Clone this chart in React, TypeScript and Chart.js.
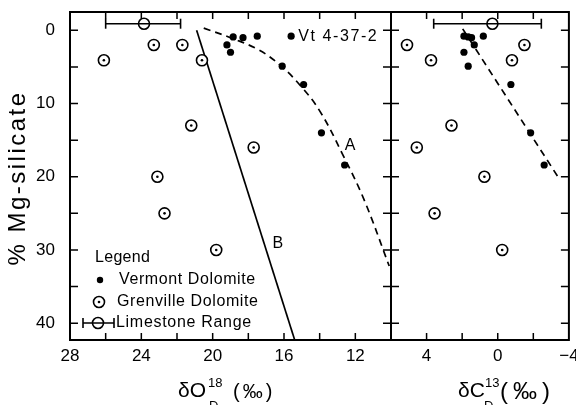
import React, { useEffect, useRef } from 'react';
import { Chart, registerables } from 'chart.js';

Chart.register(...registerables);

const FONT = '"Liberation Sans", Arial, Helvetica, sans-serif';

// ---- Vermont Dolomite (filled dots) ----
const vermontMg = [0.8, 0.8, 0.9, 1.0, 2.0, 3.0, 4.9, 7.4, 14.0, 18.4];
const vermontO18 = [17.5, 15.6, 18.85, 18.3, 19.2, 19.0, 16.1, 14.9, 13.9, 12.6];
const vermontC13 = [1.9, 0.81, 1.66, 1.47, 1.32, 1.9, 1.66, -0.74, -1.85, -2.61];

// ---- Grenville Dolomite (dotted circles) ----
const grenvilleMg = [2.0, 2.0, 4.1, 4.1, 13.0, 16.0, 20.0, 25.0, 30.0];
const grenvilleO18 = [23.3, 21.7, 26.1, 20.6, 21.2, 17.7, 23.1, 22.7, 19.8];
const grenvilleC13 = [5.1, -1.5, 3.75, -0.8, 2.6, 4.55, 0.75, 3.55, -0.25];

// ---- Limestone range ----
const limestoneMg = -0.9;
const limestoneO18Range = [26.0, 21.8];
const limestoneO18Mean = 23.85;
const limestoneC13Range = [3.6, -2.45];
const limestoneC13Mean = 0.3;

// ---- Trend lines ----
const curveA_O18 = [20.5, 18.9, 17.4, 16.2, 15.1, 14.0, 12.7, 11.5, 10.1];
const curveA_Mg = [-0.3, 1.1, 2.7, 4.8, 7.5, 11.0, 17.0, 23.2, 32.2];
const lineB_O18 = [20.9, 15.4];
const lineB_Mg = [0, 42.3];
const lineC_C13 = [1.97, -3.46];
const lineC_Mg = [-0.2, 20.3];

// ---- Ticks ----
const o18Ticks = [28, 26, 24, 22, 20, 18, 16, 14, 12, 10];
const o18Labels = [28, 24, 20, 16, 12];
const c13Ticks = [6, 4, 2, 0, -2, -4];
const c13Labels = [4, 0, -4];
const mgTicks = [0, 5, 10, 15, 20, 25, 30, 35, 40];
const mgLabels = [0, 10, 20, 30, 40];

const O18_MIN = 10, O18_MAX = 28;
const C13_MIN = -4, C13_MAX = 6;
const MG_MIN = -2.5, MG_MAX = 42.3;

const fmt = (v: number) => (v < 0 ? '\u2212' + Math.abs(v) : String(v));

function txt(ctx: any, s: string, x: number, y: number, size: number, opts: any = {}) {
  ctx.font = `${opts.weight || 'normal'} ${size}px ${FONT}`;
  ctx.letterSpacing = (opts.sp || 0) + 'px';
  ctx.textAlign = opts.align || 'left';
  ctx.textBaseline = opts.base || 'alphabetic';
  ctx.fillStyle = '#000';
  ctx.fillText(s, x, y);
}

function pts(xs: number[], ys: number[]) {
  return xs.map((x, i) => ({ x, y: ys[i] }));
}

function datasets(side: 'left' | 'right') {
  const isL = side === 'left';
  const vX = isL ? vermontO18 : vermontC13;
  const gX = isL ? grenvilleO18 : grenvilleC13;
  const lr = isL ? limestoneO18Range : limestoneC13Range;
  const lm = isL ? limestoneO18Mean : limestoneC13Mean;
  const ds: any[] = [
    { data: pts(vX, vermontMg), pointRadius: 3.6, backgroundColor: '#000', borderWidth: 0, pointBorderWidth: 0 },
    { data: pts(gX, grenvilleMg), pointRadius: 1.3, backgroundColor: '#000', borderWidth: 0, pointBorderWidth: 0 },
    { data: pts(gX, grenvilleMg), pointRadius: 5.5, backgroundColor: '#fff', borderColor: '#000', pointBorderWidth: 1.6 },
    { data: [{ x: lm, y: limestoneMg }], pointRadius: 5.5, backgroundColor: 'rgba(0,0,0,0)', borderColor: '#000', pointBorderWidth: 1.6 },
    {
      data: lr.map((x) => ({ x, y: limestoneMg })), showLine: true, borderColor: '#000', borderWidth: 1.6,
      pointStyle: 'line', rotation: 90, pointRadius: 5, pointBorderWidth: 1.6, pointBorderColor: '#000',
    },
  ];
  if (isL) {
    ds.push({ data: pts(curveA_O18, curveA_Mg), showLine: true, pointRadius: 0, borderColor: '#000', borderWidth: 1.7, borderDash: [7, 5], tension: 0.4 });
    ds.push({ data: pts(lineB_O18, lineB_Mg), showLine: true, pointRadius: 0, borderColor: '#000', borderWidth: 1.7 });
  } else {
    ds.push({ data: pts(lineC_C13, lineC_Mg), showLine: true, pointRadius: 0, borderColor: '#000', borderWidth: 1.7, borderDash: [7, 5] });
  }
  return ds;
}

function panelPlugin(side: 'left' | 'right') {
  return {
    id: 'panel_' + side,
    afterDraw(chart: any) {
      const { ctx, chartArea: a, scales } = chart;
      const x = scales.x, y = scales.y;
      ctx.save();
      ctx.strokeStyle = '#000';
      ctx.lineWidth = 2;
      ctx.strokeRect(a.left, a.top, a.right - a.left, a.bottom - a.top);
      ctx.lineWidth = 1.5;
      ctx.beginPath();
      const xt = side === 'left' ? o18Ticks : c13Ticks;
      for (const v of xt) {
        const px = x.getPixelForValue(v);
        if (px <= a.left + 1 || px >= a.right - 1) continue;
        ctx.moveTo(px, a.top); ctx.lineTo(px, a.top + 7);
        ctx.moveTo(px, a.bottom); ctx.lineTo(px, a.bottom - 7);
      }
      for (const v of mgTicks) {
        const py = y.getPixelForValue(v);
        ctx.moveTo(a.left, py); ctx.lineTo(a.left + 8, py);
        ctx.moveTo(a.right, py); ctx.lineTo(a.right - 8, py);
      }
      ctx.stroke();

      if (side === 'left') {
        // y title
        ctx.save();
        ctx.translate(18, (a.top + a.bottom) / 2 + 2);
        ctx.rotate(-Math.PI / 2);
        txt(ctx, '% Mg-silicate', 0, 0, 24, { sp: 2.5, align: 'center', base: 'middle' });
        ctx.restore();
        // x title
        txt(ctx, '\u03b4O', 178, 397, 21);
        txt(ctx, '18', 208, 387, 13);
        txt(ctx, 'D', 209, 410, 13);
        txt(ctx, '(\u2030)', 233, 398, 20, { sp: 3 });
        // annotations
        txt(ctx, 'A', x.getPixelForValue(12.3), y.getPixelForValue(15.7), 16, { align: 'center', base: 'middle' });
        txt(ctx, 'B', x.getPixelForValue(16.35), y.getPixelForValue(29.1), 16, { align: 'center', base: 'middle' });
        txt(ctx, 'Vt 4-37-2', x.getPixelForValue(vermontO18[1]) + 7, y.getPixelForValue(vermontMg[1]), 16, { sp: 1.6, base: 'middle' });
        // legend
        const lx = a.left, ly = a.bottom;
        txt(ctx, 'Legend', lx + 25, ly - 82, 16, { sp: 0.3, base: 'middle' });
        ctx.fillStyle = '#000';
        ctx.beginPath(); ctx.arc(lx + 30, ly - 60, 3.2, 0, Math.PI * 2); ctx.fill();
        txt(ctx, 'Vermont Dolomite', lx + 49, ly - 60, 16, { sp: 0.6, base: 'middle' });
        ctx.lineWidth = 1.6;
        ctx.beginPath(); ctx.arc(lx + 29, ly - 38, 5.5, 0, Math.PI * 2); ctx.stroke();
        ctx.beginPath(); ctx.arc(lx + 29, ly - 38, 1.3, 0, Math.PI * 2); ctx.fill();
        txt(ctx, 'Grenville Dolomite', lx + 47, ly - 38, 16, { sp: 0.6, base: 'middle' });
        ctx.beginPath();
        ctx.moveTo(lx + 13, ly - 17); ctx.lineTo(lx + 44, ly - 17);
        ctx.moveTo(lx + 13, ly - 22); ctx.lineTo(lx + 13, ly - 12);
        ctx.moveTo(lx + 44, ly - 22); ctx.lineTo(lx + 44, ly - 12);
        ctx.stroke();
        ctx.beginPath(); ctx.arc(lx + 28, ly - 17, 5.5, 0, Math.PI * 2); ctx.stroke();
        txt(ctx, 'Limestone Range', lx + 46, ly - 17, 16, { sp: 0.7, base: 'middle' });
      } else {
        txt(ctx, '\u03b4C', 458, 397, 21);
        txt(ctx, '13', 485, 387, 13);
        txt(ctx, 'D', 484, 410, 13);
        txt(ctx, '(\u2030)', 500, 399, 24, { sp: 5 });
      }
      ctx.restore();
    },
  };
}

function makeConfig(side: 'left' | 'right'): any {
  const isL = side === 'left';
  const xt = isL ? o18Ticks : c13Ticks;
  const xl = isL ? o18Labels : c13Labels;
  return {
    type: 'scatter',
    data: { datasets: datasets(side) },
    plugins: [panelPlugin(side)],
    options: {
      animation: false,
      responsive: false,
      devicePixelRatio: 1,
      events: [],
      layout: { padding: isL ? { left: 0, right: 185, top: 12, bottom: 0 } : { left: 391, right: 7, top: 12, bottom: 0 } },
      plugins: { legend: { display: false }, tooltip: { enabled: false } },
      scales: {
        x: {
          type: 'linear',
          min: isL ? O18_MIN : C13_MIN,
          max: isL ? O18_MAX : C13_MAX,
          reverse: true,
          position: 'bottom',
          grid: { display: false },
          border: { display: false },
          afterBuildTicks: (s: any) => { s.ticks = xt.map((v) => ({ value: v })); },
          ticks: {
            autoSkip: false, maxRotation: 0, minRotation: 0, padding: -2, color: '#000',
            font: { family: FONT, size: 17 },
            callback: (v: any) => (xl.includes(Number(v)) ? fmt(Number(v)) : ''),
          },
          afterFit: (s: any) => { s.height = 65; s.paddingLeft = 0; s.paddingRight = 0; },
        },
        y: {
          type: 'linear',
          min: MG_MIN,
          max: MG_MAX,
          reverse: true,
          position: 'left',
          display: isL,
          grid: { display: false },
          border: { display: false },
          afterBuildTicks: (s: any) => { s.ticks = mgTicks.map((v) => ({ value: v })); },
          ticks: {
            padding: 7, color: '#000',
            font: { family: FONT, size: 17 },
            callback: (v: any) => (mgLabels.includes(Number(v)) ? String(v) : ''),
          },
          afterFit: (s: any) => {
            if (isL) s.width = 70;
            s.paddingTop = 0; s.paddingBottom = 0;
          },
        },
      },
    },
  };
}

export default function App() {
  const leftRef = useRef<HTMLCanvasElement>(null);
  const rightRef = useRef<HTMLCanvasElement>(null);
  useEffect(() => {
    const c1 = new Chart(leftRef.current as HTMLCanvasElement, makeConfig('left'));
    const c2 = new Chart(rightRef.current as HTMLCanvasElement, makeConfig('right'));
    return () => { c1.destroy(); c2.destroy(); };
  }, []);
  return (
    <div style={{ position: 'absolute', left: 0, top: 0, width: 576, height: 405, background: '#fff', overflow: 'hidden' }}>
      <canvas ref={leftRef} width={576} height={405} style={{ position: 'absolute', left: 0, top: 0 }} />
      <canvas ref={rightRef} width={576} height={405} style={{ position: 'absolute', left: 0, top: 0 }} />
    </div>
  );
}
